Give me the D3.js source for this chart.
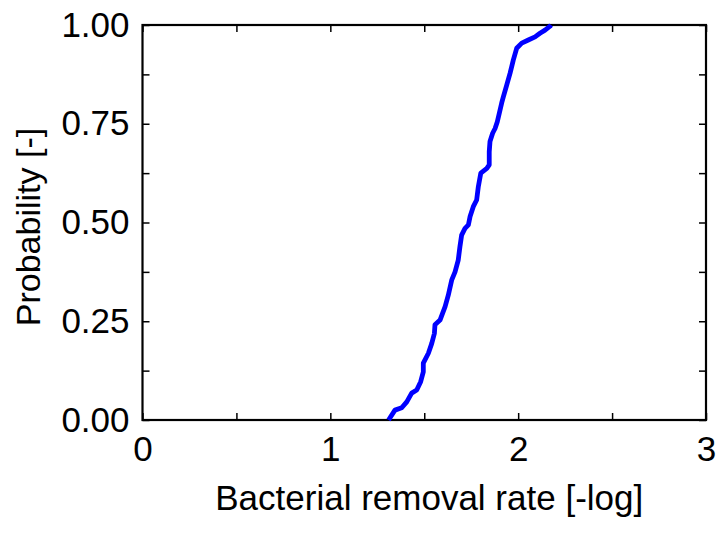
<!DOCTYPE html>
<html><head><meta charset="utf-8">
<script src="https://cdn.jsdelivr.net/npm/d3@7"></script>
<style>body{margin:0;background:#fff}svg{display:block}text{font-family:"Liberation Sans",Arial,sans-serif;fill:#000}</style>
</head><body>
<script>
const removalRate = [1.31,1.344,1.38,1.407,1.433,1.46,1.481,1.495,1.495,1.522,1.54,1.554,1.557,1.584,1.611,1.628,1.646,1.664,1.681,1.69,1.699,1.717,1.735,1.744,1.761,1.779,1.788,1.801,1.833,1.846,1.846,1.85,1.864,1.877,1.889,1.912,1.921,1.939,1.957,1.974,1.992,2.019,2.054,2.09,2.116,2.143,2.17,2.175];
const probability = [0,0.025,0.031,0.046,0.068,0.076,0.097,0.122,0.144,0.169,0.194,0.219,0.241,0.253,0.287,0.316,0.354,0.375,0.405,0.439,0.468,0.485,0.494,0.515,0.54,0.557,0.591,0.625,0.637,0.646,0.679,0.705,0.726,0.738,0.755,0.802,0.818,0.848,0.878,0.911,0.941,0.954,0.962,0.97,0.979,0.987,0.997,1.0];
const xTickLabels = [0,1,2,3];
const yTickLabels = [0,0.25,0.5,0.75,1.0];
const xMinorTicks = [0.5,1.5,2.5];
const yMinorTicks = [0.125,0.375,0.625,0.875];

const W=720,H=533;
const L=142.5,R=706,T=25,B=420;
const svg=d3.select("body").append("svg").attr("width",W).attr("height",H);
const x=d3.scaleLinear().domain([0,3]).range([L,R]);
const y=d3.scaleLinear().domain([0,1]).range([B,T]);

const tickLen=7;
function axisStyle(g){g.select(".domain").remove();g.selectAll("line").attr("stroke","#000").attr("stroke-width",1.5);}
const allX=xTickLabels.concat(xMinorTicks), allY=yTickLabels.concat(yMinorTicks);
// bottom labels
svg.append("g").attr("transform",`translate(0,${B})`)
  .call(d3.axisBottom(x).tickValues(xTickLabels).tickSize(0).tickPadding(0).tickFormat(d3.format("d")))
  .call(g=>{g.select(".domain").remove();g.selectAll("text").attr("font-size",35).attr("dy",null).attr("y",41);});
svg.append("g").attr("transform",`translate(0,${B})`)
  .call(d3.axisTop(x).tickValues(allX).tickSize(tickLen).tickFormat("")).call(axisStyle);
// top
svg.append("g").attr("transform",`translate(0,${T})`)
  .call(d3.axisBottom(x).tickValues(allX).tickSize(tickLen).tickFormat("")).call(axisStyle);
// left labels
svg.append("g").attr("transform",`translate(${L},0)`)
  .call(d3.axisLeft(y).tickValues(yTickLabels).tickSize(0).tickPadding(13).tickFormat(d3.format(".2f")))
  .call(g=>{g.select(".domain").remove();g.selectAll("text").attr("font-size",35);});
svg.append("g").attr("transform",`translate(${L},0)`)
  .call(d3.axisRight(y).tickValues(allY).tickSize(tickLen).tickFormat("")).call(axisStyle);
// right
svg.append("g").attr("transform",`translate(${R},0)`)
  .call(d3.axisLeft(y).tickValues(allY).tickSize(tickLen).tickFormat("")).call(axisStyle);

svg.append("rect").attr("x",L).attr("y",T).attr("width",R-L).attr("height",B-T)
  .attr("fill","none").attr("stroke","#000").attr("stroke-width",2.2);

const pts=removalRate.map((v,i)=>[v,probability[i]]);
svg.append("path").datum(pts)
  .attr("d",d3.line().x(d=>x(d[0])).y(d=>y(d[1])).curve(d3.curveLinear))
  .attr("fill","none").attr("stroke","#0000ff").attr("stroke-width",4.8)
  .attr("stroke-linejoin","round").attr("stroke-linecap","butt");

svg.append("text").attr("x",(L+R)/2+5).attr("y",510).attr("text-anchor","middle")
  .attr("font-size",35).text("Bacterial removal rate [-log]");
svg.append("text").attr("transform",`translate(40,227) rotate(-90)`)
  .attr("text-anchor","middle").attr("font-size",34).text("Probability [-]");
</script>
</body></html>
